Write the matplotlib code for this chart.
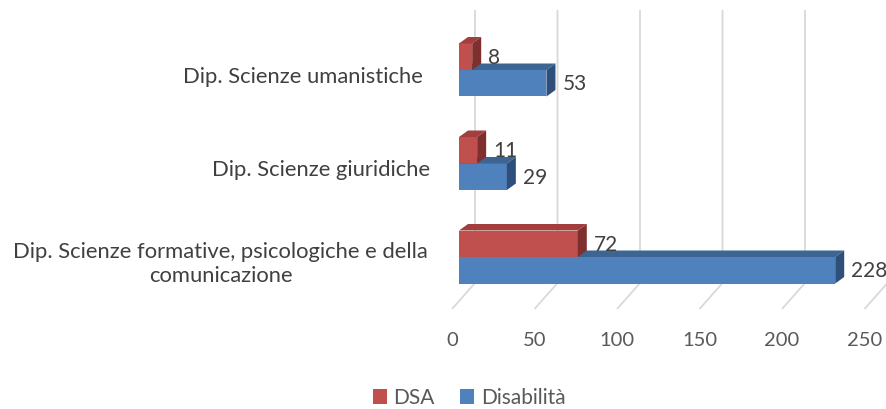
import numpy as np
import matplotlib.pyplot as plt
from matplotlib.patches import Polygon

plt.rcParams['font.family'] = ['Lato', 'DejaVu Sans']

# data (bottom to top)
departments = ["Dip. Scienze formative, psicologiche e della\ncomunicazione",
               "Dip. Scienze giuridiche",
               "Dip. Scienze umanistiche"]
dsa = [72, 11, 8]
disabilita = [228, 29, 53]
ticks = [0, 50, 100, 150, 200, 250]

red = ("#c0504d", "#a23f3c", "#7f2f2d")
blue = ("#4f81bd", "#3d6594", "#2f4f7b")

# pixel scale of the fake 3d view
ppu = 1.65      # pixels per value unit
ppc = 93.5      # pixels per category
def dx(p):
    return p / ppu
def dy(p):
    return p / ppc

fig = plt.figure(figsize=(8.87, 4.09), dpi=100)
ax = fig.add_axes([0, 0, 1, 1])
ax.set_xlim(-459 / ppu, (887 - 459) / ppu)
ax.set_ylim((257 - 409) / ppc, 257 / ppc)
ax.axis('off')

h = dy(26.5)
ddx, ddy = dx(9), dy(6.5)

# back wall gridlines + floor
y_top = dy(257 - 10)
y_back = dy(257 - 283)
y_front = dy(257 - 309)
for t in ticks:
    xb = t + dx(16)
    xf = t - dx(7)
    ax.plot([xb, xb, xf], [y_top, y_back, y_front], color="#d9d9d9",
            lw=1.3, zorder=1, solid_capstyle='butt')
    ax.text(xf, dy(257 - 340), str(t), ha='center', va='center',
            fontsize=14.5, color="#595959")

def bar3d(v, y0, y1, cols):
    ax.barh((y0 + y1) / 2, v, height=y1 - y0, left=0, color=cols[0],
            edgecolor='none', zorder=3)
    top = [(0, y1), (v, y1), (v + ddx, y1 + ddy), (ddx, y1 + ddy)]
    side = [(v, y0), (v, y1), (v + ddx, y1 + ddy), (v + ddx, y0 + ddy)]
    ax.add_patch(Polygon(top, closed=True, color=cols[1], lw=0, zorder=3))
    ax.add_patch(Polygon(side, closed=True, color=cols[2], lw=0, zorder=3))
    ax.text(v + ddx + dx(7), (y0 + y1) / 2 - dy(1), str(v), ha='left',
            va='center', fontsize=15, color="#404040", zorder=4)

# right edge of each label (pixels)
label_right = [428, 430, 423]

for i in range(len(departments)):
    bar3d(disabilita[i], i - h, i, blue)
    bar3d(dsa[i], i, i + h, red)
    ax.text(-dx(459 - label_right[i]), i - dy(7), departments[i], ha='right',
            va='center', fontsize=15.8, color="#404040",
            multialignment='center', linespacing=1.2)

ax.barh([0], [0], color=red[0], label="DSA")
ax.barh([0], [0], color=blue[0], label="Disabilità")
leg = ax.legend(loc='center', bbox_to_anchor=(469 / 887, 11 / 409), ncol=2,
                frameon=False, fontsize=15, handlelength=0.7, handleheight=0.7,
                handletextpad=0.3, columnspacing=1.2, labelcolor="#595959")

fig.savefig("out.png", dpi=100)
